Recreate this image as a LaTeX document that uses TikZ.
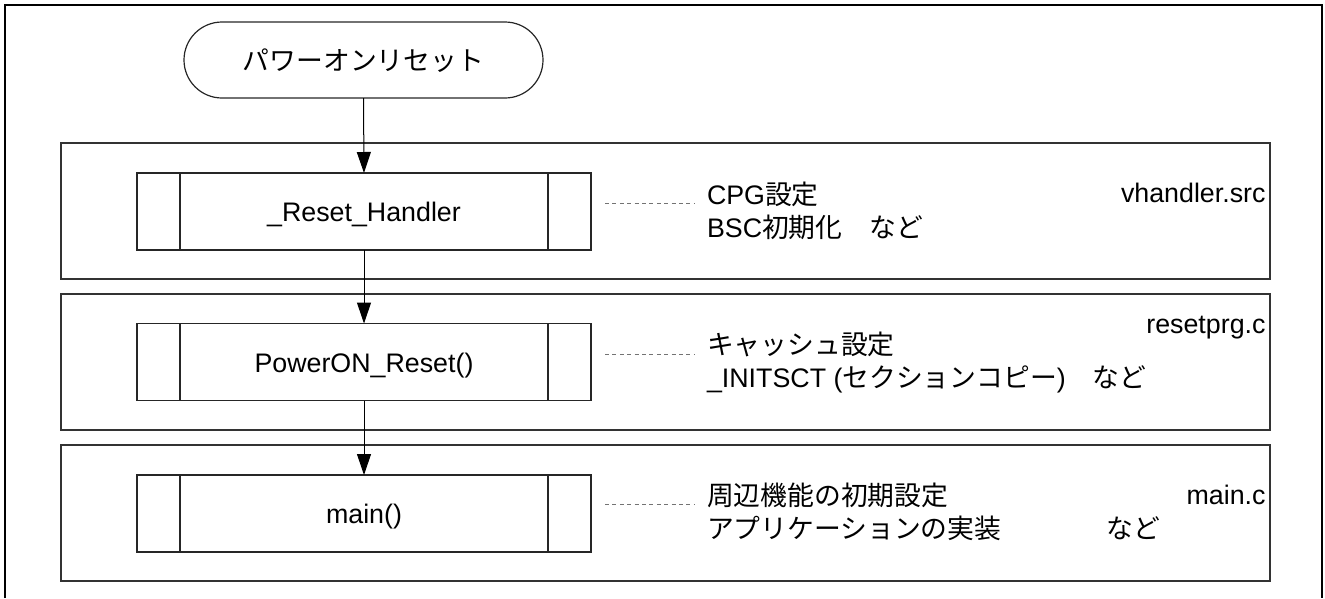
\documentclass[tikz,border=0pt]{standalone}
\usepackage{fontspec}
\setmainfont{Liberation Sans}
\newfontfamily\jp{Noto Sans CJK JP}
\usetikzlibrary{arrows.meta}
\begin{document}
\begin{tikzpicture}[x=1pt,y=-1pt,
  every node/.style={font=\fontsize{26.8}{34}\selectfont, inner sep=0pt, outer sep=0pt},
  grp/.style={draw=black!80, line width=1.2pt, minimum width=1209pt, minimum height=136pt},
  proc/.style={draw=black!85, line width=1.2pt, minimum width=454pt, minimum height=77pt,
    path picture={
      \draw[line width=1.2pt] ([xshift=43pt]path picture bounding box.north west) -- ([xshift=43pt]path picture bounding box.south west);
      \draw[line width=1.2pt] ([xshift=-43pt]path picture bounding box.north east) -- ([xshift=-43pt]path picture bounding box.south east);}},
  term/.style={draw=black!85, line width=1.2pt, rounded corners=38pt, minimum width=359pt, minimum height=76pt},
  flow/.style={line width=1pt, -{Triangle[length=21pt,width=14pt]}},
  lead/.style={draw=black!55, line width=1pt, dash pattern=on 4pt off 3.4pt},
  txt/.style={anchor=base west},
  fname/.style={anchor=base east},
  lbl/.style={anchor=base}]
\useasboundingbox (0,0) rectangle (1325,598);
% outer frame (open at bottom)
\draw[line width=2.4pt] (5,598) -- (5,5) -- (1322,5) -- (1322,598);

% start terminal
\node[term] (term) at (363.5,60) {};
\node[lbl] (termtxt) at (363.5,70) {\jp パワーオンリセット};

% groups
\node[grp] (g1) at (665.5,211) {};
\node[grp] (g2) at (665.5,362) {};
\node[grp] (g3) at (665.5,513) {};

% process boxes
\node[proc] (p1) at (364,211.5) {};
\node[proc] (p2) at (364,362) {};
\node[proc] (p3) at (364,513.5) {};
\node[lbl] (p1t) at (364,221.5) {\_Reset\_Handler};
\node[lbl] (p2t) at (364,372) {PowerON\_Reset()};
\node[lbl] (p3t) at (364,523.5) {main()};

% flow arrows
\draw[flow] (term.south) -- (p1.north);
\draw[flow] (p1.south) -- (p2.north);
\draw[flow] (p2.south) -- (p3.north);

% leader lines
\coordinate (l1a) at (605,203); \coordinate (l1b) at (694,203);
\coordinate (l2a) at (605,354); \coordinate (l2b) at (694,354);
\coordinate (l3a) at (605,504); \coordinate (l3b) at (694,504);
\draw[lead] (l1a) -- (l1b);
\draw[lead] (l2a) -- (l2b);
\draw[lead] (l3a) -- (l3b);

% descriptions
\node[txt] (d1a) at (707,204) {CPG{\jp 設定}};
\node[txt] (d1b) at (707,237) {BSC{\jp 初期化　など}};
\node[txt] (d2a) at (707,354) {\jp キャッシュ設定};
\node[txt] (d2b) at (707,387) {\_INITSCT ({\jp セクションコピー}){\jp 　など}};
\node[txt] (d3a) at (707,505) {\jp 周辺機能の初期設定};
\node[txt] (d3b) at (707,538) {\jp アプリケーションの実装\hspace{105pt}など};

% file names
\node[fname] (f1) at (1265.5,202) {vhandler.src};
\node[fname] (f2) at (1265.5,333) {resetprg.c};
\node[fname] (f3) at (1265.5,504) {main.c};
\end{tikzpicture}
\end{document}
